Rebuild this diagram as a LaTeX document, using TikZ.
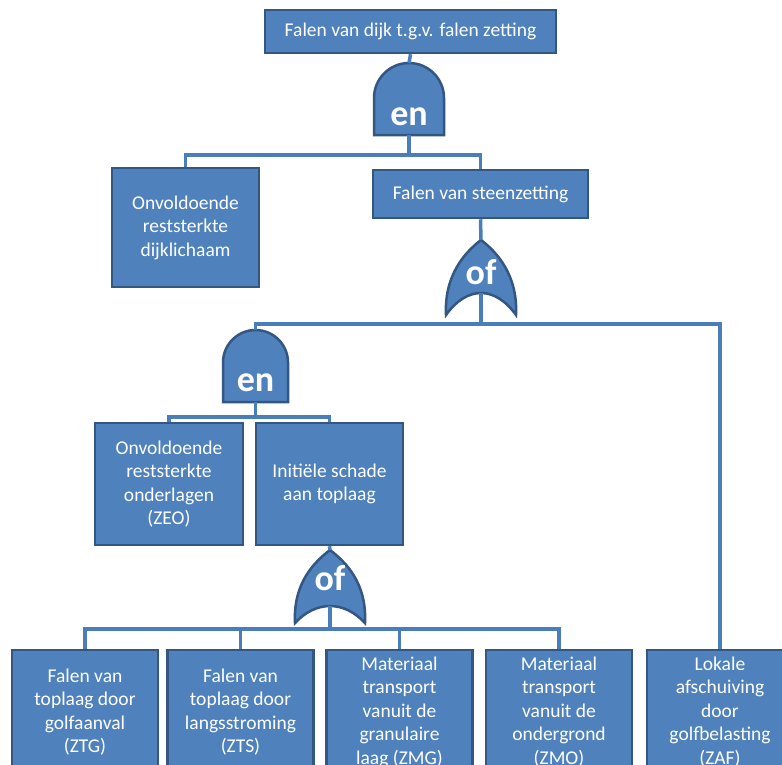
\documentclass[tikz,border=0pt]{standalone}
\usepackage{fontspec}
\setmainfont{Carlito}
\definecolor{boxfill}{RGB}{79,129,189}
\definecolor{boxline}{RGB}{52,86,130}
\definecolor{connc}{RGB}{74,126,187}
\newcommand\andgateshape[4]{% x, top, bottom, half width
  \path[gate] (#1-#4,#3) -- (#1-#4,#2+#4)
    .. controls (#1-#4,#2+#4-0.552*#4) and (#1-0.552*#4,#2) .. (#1,#2)
    .. controls (#1+0.552*#4,#2) and (#1+#4,#2+#4-0.552*#4) .. (#1+#4,#2+#4)
    -- (#1+#4,#3) -- cycle;}
\newcommand\orgateshape[5]{% x, apex, tip, half width, notch
  \path[gate] (#1-#4,#3)
    .. controls (#1-#4-2,#3-40) and (#1-0.45*#4,#2+12) .. (#1,#2)
    .. controls (#1+0.45*#4,#2+12) and (#1+#4+2,#3-40) .. (#1+#4,#3)
    .. controls (#1+0.4*#4,{(#5-0.25*#3)/0.75}) and (#1-0.4*#4,{(#5-0.25*#3)/0.75}) .. (#1-#4,#3) -- cycle;}
\begin{document}
\begin{tikzpicture}[x=1pt,y=-1pt,
  box/.style={draw=boxline, fill=boxfill, line width=2.5pt, text=white, align=center,
    inner sep=0pt, font=\fontsize{19.5}{23.5}\selectfont},
  gate/.style={draw=boxline, fill=boxfill, line width=2.5pt},
  conn/.style={draw=connc, line width=3.5pt},
  glabel/.style={text=white, inner sep=0pt, font=\fontsize{36}{40}\selectfont\bfseries},
  bottombox/.style={box, minimum width=146pt, minimum height=124pt}]
\useasboundingbox (0,0) rectangle (782,764);
\clip (0,0) rectangle (782,764);

% boxes
\node[box, minimum width=291pt, minimum height=43pt] (top) at (410.5,31.5) {Falen van dijk t.g.v. falen zetting};
\node[box, minimum width=147pt, minimum height=119pt] (dijk) at (185.5,227.5) {Onvoldoende\\reststerkte\\dijklichaam};
\node[box, minimum width=215pt, minimum height=48pt] (steen) at (480.5,194) {Falen van steenzetting};
\node[box, minimum width=148pt, minimum height=122pt] (zeo) at (169,484) {Onvoldoende\\reststerkte\\onderlagen\\(ZEO)};
\node[box, minimum width=147pt, minimum height=122pt] (init) at (329.5,484) {Initiële schade\\aan toplaag};
\node[bottombox] (b1) at (85,712) {Falen van\\toplaag door\\golfaanval\\(ZTG)};
\node[bottombox] (b2) at (240.5,712) {Falen van\\toplaag door\\langsstroming\\(ZTS)};
\node[bottombox] (b3) at (399.5,712) {Materiaal\\transport\\vanuit de\\granulaire\\laag (ZMG)};
\node[bottombox] (b4) at (559,712) {Materiaal\\transport\\vanuit de\\ondergrond\\(ZMO)};
\node[bottombox] (b5) at (720,712) {Lokale\\afschuiving\\door\\golfbelasting\\(ZAF)};

% gates
\andgateshape{409}{63}{135}{35}
\coordinate (g1t) at (409,63);
\coordinate (g1b) at (409,135);
\node[glabel] (g1l) at (409,117) {en};

\orgateshape{481}{240}{315}{35}{293}
\coordinate (o1t) at (481,240);
\coordinate (o1b) at (481,293);
\node[glabel] (o1l) at (481,272) {of};

\andgateshape{255.5}{330}{402}{32.5}
\coordinate (g2t) at (255.5,330);
\coordinate (g2b) at (255.5,402);
\node[glabel] (g2l) at (255.5,383) {en};

\orgateshape{330}{550}{623}{35}{606}
\coordinate (o2t) at (330,550);
\coordinate (o2b) at (330,606);
\node[glabel] (o2l) at (330,578) {of};

% connectors
\draw[conn] (top.south) -- (g1t);
\draw[conn] (g1b) -- ++(0,20) -| (dijk.north);
\draw[conn] (g1b) -- ++(0,20) -| (steen.north);
\draw[conn] (steen.south) -- (o1t);
\draw[conn] (o1b) -- ++(0,31) -| (g2t);
\draw[conn] (o1b) -- ++(0,31) -| (b5.north);
\draw[conn] (g2b) -- ++(0,15) -| (zeo.north);
\draw[conn] (g2b) -- ++(0,15) -| (init.north);
\draw[conn] (init.south) -- (o2t);
\foreach \b in {b1,b2,b3,b4}{
  \draw[conn] (o2b) -- ++(0,23) -| (\b.north);
}
\end{tikzpicture}
\end{document}
